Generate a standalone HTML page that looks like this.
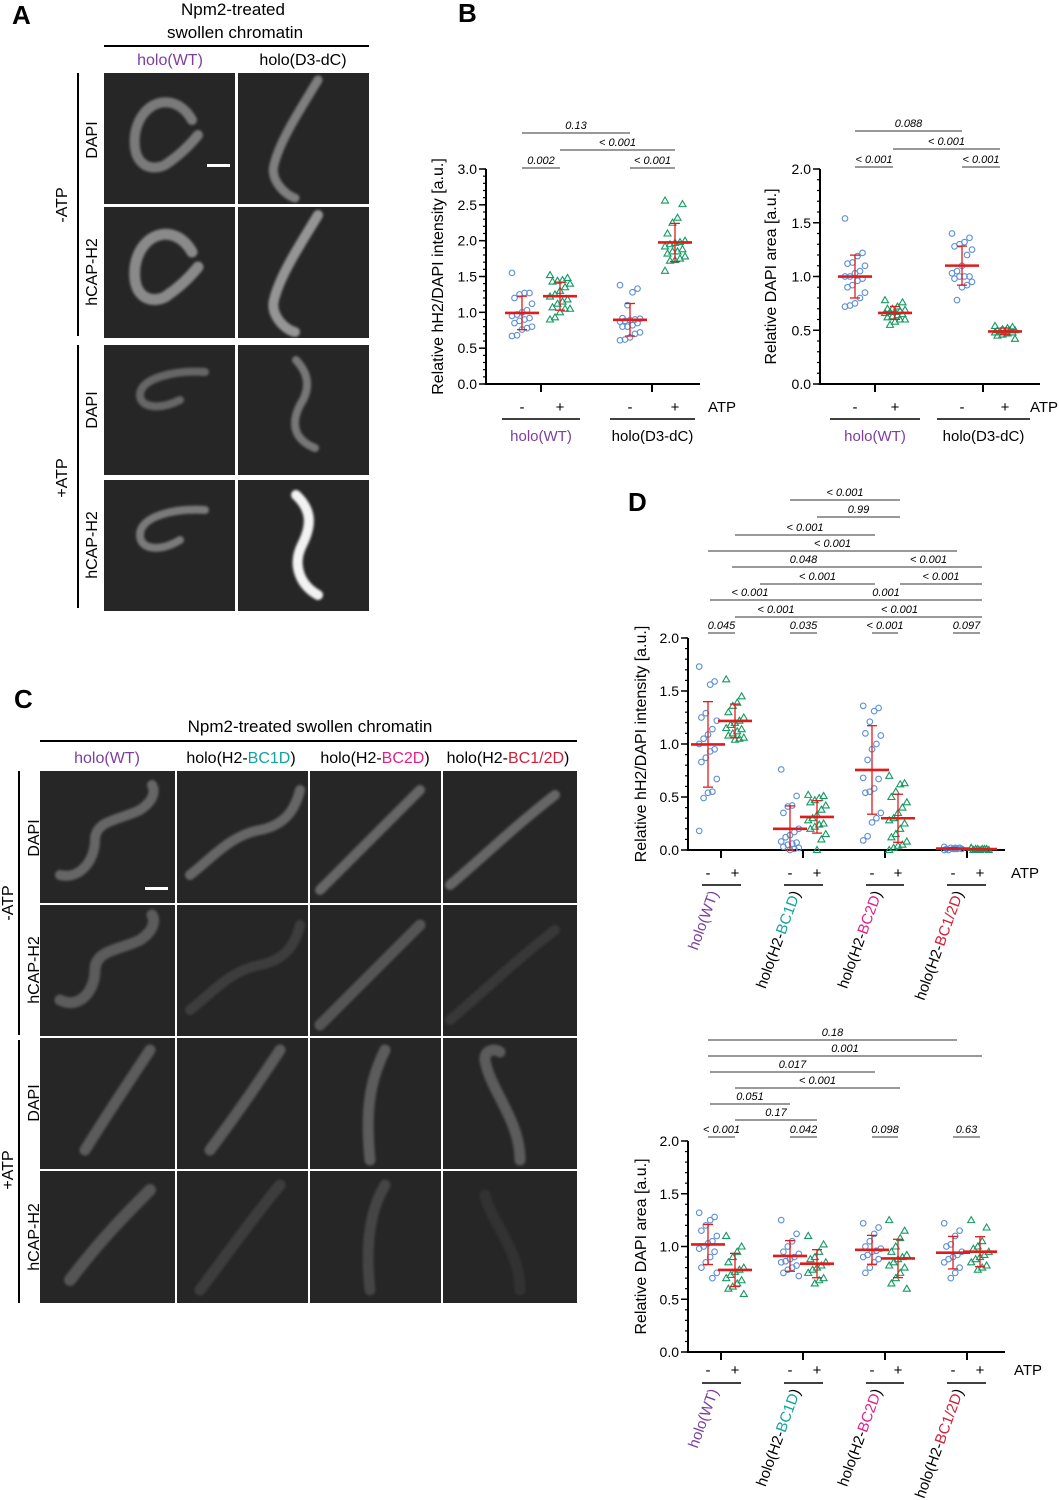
<!DOCTYPE html>
<html><head><meta charset="utf-8">
<style>
body{margin:0;background:#fff;}
svg{display:block;font-family:"Liberation Sans",Arial,sans-serif;}
</style></head>
<body>
<svg id="fig" width="1059" height="1500" viewBox="0 0 1059 1500">
<defs><filter id="bl" x="-20%" y="-20%" width="140%" height="140%"><feGaussianBlur stdDeviation="1.2"/></filter></defs>
<g id="static">
<!-- Panel A -->
<text x="12" y="24" font-size="26" font-weight="bold">A</text>
<text x="233" y="15" font-size="17" text-anchor="middle">Npm2-treated</text>
<text x="235" y="38" font-size="17" text-anchor="middle">swollen chromatin</text>
<line x1="104" y1="46" x2="369" y2="46" stroke="#000" stroke-width="2"/>
<text x="170" y="65" font-size="16" text-anchor="middle" fill="#7b3f9e">holo(WT)</text>
<text x="303" y="65" font-size="16" text-anchor="middle">holo(D3-dC)</text>
<line x1="78" y1="73" x2="78" y2="336" stroke="#000" stroke-width="2"/>
<line x1="78" y1="345" x2="78" y2="608" stroke="#000" stroke-width="2"/>
<text transform="translate(67,205) rotate(-90)" font-size="16" text-anchor="middle">-ATP</text>
<text transform="translate(67,478) rotate(-90)" font-size="16" text-anchor="middle">+ATP</text>
<text transform="translate(97,140) rotate(-90)" font-size="16" text-anchor="middle">DAPI</text>
<text transform="translate(97,272) rotate(-90)" font-size="16" text-anchor="middle">hCAP-H2</text>
<text transform="translate(97,410) rotate(-90)" font-size="16" text-anchor="middle">DAPI</text>
<text transform="translate(97,545) rotate(-90)" font-size="16" text-anchor="middle">hCAP-H2</text>
<g>
<rect x="104" y="73" width="131" height="131" fill="#262626"/>
<rect x="238" y="73" width="131" height="131" fill="#262626"/>
<rect x="104" y="207" width="131" height="131" fill="#262626"/>
<rect x="238" y="207" width="131" height="131" fill="#262626"/>
<rect x="104" y="345" width="131" height="130" fill="#262626"/>
<rect x="238" y="345" width="131" height="130" fill="#262626"/>
<rect x="104" y="480" width="131" height="131" fill="#262626"/>
<rect x="238" y="480" width="131" height="131" fill="#262626"/>
<g fill="none" stroke-linecap="round" filter="url(#bl)">
<path d="M192,120 C175,90 140,100 135,135 C132,165 150,172 165,165 C180,155 190,145 198,135" stroke="#7a7a7a" stroke-width="10"/>
<path d="M192,252 C175,222 140,232 135,267 C132,297 150,304 165,297 C180,287 190,277 198,267" stroke="#8a8a8a" stroke-width="11"/>
<path d="M318,80 C300,110 280,140 274,165 C270,180 285,195 295,198" stroke="#7f7f7f" stroke-width="9"/>
<path d="M318,215 C300,245 280,275 274,300 C270,315 285,330 295,332" stroke="#959595" stroke-width="10"/>
<path d="M205,372 C175,370 140,378 140,395 C140,408 160,410 180,400" stroke="#666" stroke-width="8"/>
<path d="M205,510 C175,508 140,516 140,535 C140,550 160,552 180,540" stroke="#7a7a7a" stroke-width="8"/>
<path d="M296,360 C310,375 310,390 300,405 C290,425 295,440 315,448" stroke="#777" stroke-width="8"/>
<path d="M296,495 C312,510 312,525 302,545 C292,565 300,585 318,595" stroke="#f2f2f2" stroke-width="10"/>
</g>
<rect x="207" y="164" width="23" height="3" fill="#fff"/>
</g>
<!-- Panel B -->
<text x="458" y="22" font-size="26" font-weight="bold">B</text>
<!-- Panel C -->
<text x="14" y="708" font-size="26" font-weight="bold">C</text>
<text x="310" y="732" font-size="17" text-anchor="middle">Npm2-treated swollen chromatin</text>
<line x1="40" y1="741" x2="577" y2="741" stroke="#000" stroke-width="2"/>
<text x="107" y="763" font-size="16" text-anchor="middle" fill="#7b3f9e">holo(WT)</text>
<text x="241" y="763" font-size="16" text-anchor="middle">holo(H2-<tspan fill="#10a5a0">BC1D</tspan>)</text>
<text x="375" y="763" font-size="16" text-anchor="middle">holo(H2-<tspan fill="#e0218a">BC2D</tspan>)</text>
<text x="508" y="763" font-size="16" text-anchor="middle">holo(H2-<tspan fill="#d0213a">BC1/2D</tspan>)</text>
<line x1="19" y1="771" x2="19" y2="1035" stroke="#000" stroke-width="2"/>
<line x1="19" y1="1040" x2="19" y2="1303" stroke="#000" stroke-width="2"/>
<text transform="translate(13,903) rotate(-90)" font-size="16" text-anchor="middle">-ATP</text>
<text transform="translate(13,1170) rotate(-90)" font-size="16" text-anchor="middle">+ATP</text>
<text transform="translate(39,838) rotate(-90)" font-size="16" text-anchor="middle">DAPI</text>
<text transform="translate(39,970) rotate(-90)" font-size="16" text-anchor="middle">hCAP-H2</text>
<text transform="translate(39,1103) rotate(-90)" font-size="16" text-anchor="middle">DAPI</text>
<text transform="translate(39,1237) rotate(-90)" font-size="16" text-anchor="middle">hCAP-H2</text>
<g>
<rect x="40" y="771" width="537" height="532" fill="#262626"/>
<g stroke="#fff" stroke-width="2">
<line x1="176" y1="771" x2="176" y2="1303"/><line x1="309" y1="771" x2="309" y2="1303"/><line x1="442" y1="771" x2="442" y2="1303"/>
<line x1="40" y1="904" x2="577" y2="904"/><line x1="40" y1="1037" x2="577" y2="1037"/><line x1="40" y1="1170" x2="577" y2="1170"/>
</g>
<g fill="none" stroke-linecap="round" filter="url(#bl)">
<path d="M60,875 C80,880 95,860 95,840 C95,820 120,820 140,810 C155,800 155,790 152,785" stroke="#666" stroke-width="10"/>
<path d="M190,875 C210,860 230,835 260,830 C285,825 295,810 300,790" stroke="#666" stroke-width="10"/>
<path d="M320,890 C350,860 380,830 420,790" stroke="#666" stroke-width="10"/>
<path d="M450,885 C480,860 510,830 555,795" stroke="#666" stroke-width="10"/>
<path d="M60,1000 C80,1010 95,990 95,970 C95,950 120,950 140,940 C155,930 155,920 152,915" stroke="#5c5c5c" stroke-width="11"/>
<path d="M190,1010 C210,995 230,970 260,965 C285,960 295,945 300,925" stroke="#3e3e3e" stroke-width="10"/>
<path d="M320,1025 C350,995 380,965 420,925" stroke="#555" stroke-width="11"/>
<path d="M450,1020 C480,995 510,965 555,930" stroke="#383838" stroke-width="10"/>
<path d="M85,1150 C110,1110 130,1080 150,1050" stroke="#5c5c5c" stroke-width="11"/>
<path d="M210,1150 C240,1110 260,1080 280,1050" stroke="#5c5c5c" stroke-width="11"/>
<path d="M370,1160 C365,1110 370,1080 385,1050" stroke="#5c5c5c" stroke-width="11"/>
<path d="M520,1160 C520,1120 490,1090 485,1060 C484,1050 495,1048 500,1052" stroke="#5c5c5c" stroke-width="11"/>
<path d="M70,1280 C100,1240 130,1210 150,1190" stroke="#555" stroke-width="12"/>
<path d="M200,1290 C230,1250 255,1215 280,1185" stroke="#3e3e3e" stroke-width="11"/>
<path d="M370,1290 C365,1245 370,1210 385,1185" stroke="#444" stroke-width="11"/>
<path d="M520,1290 C520,1250 490,1220 485,1195" stroke="#333" stroke-width="11"/>
</g>
<rect x="145" y="887" width="23" height="3" fill="#fff"/>
</g>
<!-- Panel D -->
<text x="628" y="511" font-size="26" font-weight="bold">D</text>
</g>
<g id="charts"></g>
</svg>
<script>
// ---------- DATA ----------
const b1Categories = ["WT-","WT+","D3-","D3+"];
const b1WTminus = [1.55,1.27,1.27,1.25,1.2,1.12,1.03,1.0,0.97,0.95,0.92,0.9,0.88,0.85,0.8,0.78,0.76,0.68,0.67];
const b1WTplus = [1.52,1.48,1.45,1.44,1.43,1.4,1.35,1.3,1.25,1.22,1.18,1.15,1.12,1.07,1.05,1.05,1.0,0.93,0.9];
const b1D3minus = [1.38,1.33,1.28,1.1,0.92,0.91,0.9,0.89,0.88,0.87,0.85,0.82,0.8,0.8,0.72,0.7,0.65,0.62,0.61];
const b1D3plus = [2.56,2.51,2.32,2.25,2.1,2.0,1.98,1.97,1.95,1.92,1.88,1.85,1.85,1.82,1.78,1.75,1.73,1.72,1.58];
const b1Ticks = ["0.0","0.5","1.0","1.5","2.0","2.5","3.0"];

const b2WTminus = [1.54,1.22,1.19,1.13,1.12,1.1,1.05,1.03,1.0,1.0,0.98,0.96,0.92,0.9,0.85,0.8,0.75,0.73,0.72];
const b2WTplus = [0.78,0.76,0.72,0.7,0.7,0.69,0.68,0.67,0.67,0.66,0.65,0.64,0.63,0.62,0.6,0.6,0.58,0.55];
const b2D3minus = [1.4,1.36,1.32,1.3,1.28,1.25,1.2,1.1,1.05,1.03,1.0,1.0,1.0,0.98,0.95,0.92,0.9,0.78];
const b2D3plus = [0.54,0.53,0.52,0.51,0.5,0.5,0.5,0.49,0.49,0.48,0.48,0.47,0.46,0.45,0.42];
const b2Ticks = ["0.0","0.5","1.0","1.5","2.0"];

const d1WTminus = [1.73,1.59,1.56,1.29,1.25,1.22,1.14,1.09,1.05,1.0,0.95,0.93,0.87,0.83,0.67,0.55,0.54,0.49,0.18];
const d1WTplus = [1.61,1.45,1.39,1.36,1.3,1.25,1.22,1.2,1.18,1.15,1.14,1.12,1.1,1.08,1.06,1.05,1.04];
const d1BC1Dminus = [0.76,0.51,0.42,0.41,0.35,0.2,0.17,0.14,0.12,0.08,0.07,0.06,0.05,0.03,0.02,0.01,0.0];
const d1BC1Dplus = [0.52,0.51,0.49,0.47,0.45,0.42,0.38,0.33,0.3,0.28,0.25,0.24,0.22,0.2,0.15,0.1,0.0];
const d1BC2Dminus = [1.36,1.34,1.31,1.21,1.1,1.08,1.0,0.95,0.85,0.68,0.67,0.58,0.55,0.54,0.35,0.3,0.26,0.13,0.09];
const d1BC2Dplus = [0.7,0.63,0.62,0.55,0.5,0.45,0.4,0.35,0.3,0.28,0.25,0.2,0.15,0.12,0.08,0.05,0.04,0.02,0.0];
const d1BC12minus = [0.03,0.02,0.02,0.02,0.01,0.01,0.01,0.01,0.0,0.0,0.02,0.01];
const d1BC12plus = [0.02,0.01,0.01,0.01,0.0,0.0,0.01,0.0,0.01,0.02];
const dTicks = ["0.0","0.5","1.0","1.5","2.0"];

const d2WTminus = [1.32,1.28,1.25,1.2,1.15,1.1,1.05,1.03,1.0,0.98,0.95,0.9,0.85,0.8,0.75,0.7];
const d2WTplus = [1.1,1.0,0.95,0.9,0.85,0.8,0.78,0.76,0.73,0.7,0.68,0.65,0.62,0.6,0.55];
const d2BC1Dminus = [1.25,1.12,1.05,1.0,0.95,0.93,0.9,0.88,0.86,0.85,0.82,0.8,0.78,0.75,0.72];
const d2BC1Dplus = [1.1,1.02,0.95,0.9,0.88,0.85,0.82,0.8,0.78,0.75,0.7,0.68,0.65];
const d2BC2Dminus = [1.22,1.18,1.12,1.05,1.0,0.98,0.96,0.95,0.92,0.9,0.88,0.85,0.8,0.75];
const d2BC2Dplus = [1.25,1.15,1.08,1.0,0.95,0.92,0.9,0.88,0.85,0.82,0.8,0.75,0.7,0.65,0.6];
const d2BC12minus = [1.22,1.15,1.1,1.02,1.0,0.95,0.92,0.9,0.88,0.85,0.8,0.75,0.7];
const d2BC12plus = [1.25,1.18,1.05,1.0,0.98,0.95,0.92,0.9,0.88,0.85,0.82,0.8,0.78];

const b1PValues = ["0.13","< 0.001","0.002","< 0.001"];
const b2PValues = ["0.088","< 0.001","< 0.001","< 0.001"];
const d1PValues = ["< 0.001","0.99","< 0.001","< 0.001","0.048","< 0.001","< 0.001","< 0.001","< 0.001","0.001","< 0.001","< 0.001","0.045","0.035","< 0.001","0.097"];
const d2PValues = ["0.18","0.001","0.017","< 0.001","0.051","0.17","< 0.001","0.042","0.098","0.63"];

// ---------- DRAWING ----------
const NS="http://www.w3.org/2000/svg";
const root=document.getElementById('charts');
function mk(tag,attrs,parent){const e=document.createElementNS(NS,tag);for(const k in attrs)e.setAttribute(k,attrs[k]);(parent||root).appendChild(e);return e;}
function txt(s,attrs,parent){const e=mk('text',attrs,parent);e.textContent=s;return e;}
const BLUE="#5b8fd6",GREEN="#129a62",RED="#e11b1b";

function chart(cfg){
  const g=mk('g',{});
  
  
  const y=v=>cfg.y0+(cfg.y1-cfg.y0)*(v-cfg.vmin)/(cfg.vmax-cfg.vmin);
  mk('line',{x1:cfg.ax,y1:y(cfg.vmax),x2:cfg.ax,y2:cfg.y0+1,stroke:'#000','stroke-width':2},g);
  mk('line',{x1:cfg.ax-1,y1:cfg.y0,x2:cfg.axEnd,y2:cfg.y0,stroke:'#000','stroke-width':2},g);
  const nMinor=Math.round((cfg.vmax-cfg.vmin)/cfg.minor);
  for(let i=0;i<=nMinor;i++){const v=cfg.vmin+i*cfg.minor;mk('line',{x1:cfg.ax-3,y1:y(v),x2:cfg.ax,y2:y(v),stroke:'#000','stroke-width':1.2},g);}
  cfg.ticks.forEach(t=>{const v=parseFloat(t);mk('line',{x1:cfg.ax-7,y1:y(v),x2:cfg.ax,y2:y(v),stroke:'#000','stroke-width':1.5},g);
    const l=txt(t,{x:cfg.ax-9,y:y(v)+5,'font-size':14,'text-anchor':'end'},g);
    
    });
  const yt=txt(cfg.ytitle,{transform:`translate(${cfg.ytx},${(y(cfg.vmax)+cfg.y0)/2}) rotate(-90)`,'font-size':16,'text-anchor':'middle'},g);
  
  
  cfg.gticks.forEach(x=>mk('line',{x1:x,y1:cfg.y0,x2:x,y2:cfg.y0+8,stroke:'#000','stroke-width':2},g));
  cfg.series.forEach((s,si)=>{
    const cx=cfg.xs[si];const green=si%2===1;
    s.forEach((v,i)=>{
      const dx=(((i*7)%9)-4)*cfg.jit;
      let m;
      if(green){const px=cx+dx,py=y(v);m=mk('path',{d:`M${px},${py-3.5} L${px+3.5},${py+2.5} L${px-3.5},${py+2.5}Z`,fill:'none',stroke:GREEN,'stroke-width':1.1},g);}
      else m=mk('circle',{cx:cx+dx,cy:y(v),r:2.8,fill:'none',stroke:BLUE,'stroke-width':1.1},g);
      
      
    });
    const mean=s.reduce((a,b)=>a+b,0)/s.length;
    const sd=Math.sqrt(s.reduce((a,b)=>a+(b-mean)*(b-mean),0)/(s.length-1));
    const eb=mk('g',{stroke:RED},g);
    
    
    mk('line',{x1:cx,y1:y(mean+sd),x2:cx,y2:y(Math.max(cfg.vmin,mean-sd)),'stroke-width':1.3},eb);
    mk('line',{x1:cx-5,y1:y(mean+sd),x2:cx+5,y2:y(mean+sd),'stroke-width':1.3},eb);
    mk('line',{x1:cx-5,y1:y(Math.max(cfg.vmin,mean-sd)),x2:cx+5,y2:y(Math.max(cfg.vmin,mean-sd)),'stroke-width':1.3},eb);
    mk('line',{x1:cx-17,y1:y(mean),x2:cx+17,y2:y(mean),'stroke-width':2.6},eb);
  });
  cfg.brackets.forEach((b,i)=>{
    mk('line',{x1:b[1],y1:b[0],x2:b[2],y2:b[0],stroke:'#333','stroke-width':1},g);
    const t=txt(cfg.pvals[i],{x:(b[1]+b[2])/2,y:b[0]-4,'font-size':11,'font-style':'italic','text-anchor':'middle'},g);
    
    
  });
  cfg.xs.forEach((x,i)=>txt(i%2?'+':'-',{x:x,y:cfg.pmY,'font-size':15,'text-anchor':'middle'},g));
  txt('ATP',{x:cfg.atpX,y:cfg.pmY,'font-size':15},g);
  cfg.groups.forEach((gr,i)=>{
    const xa=cfg.xs[2*i]-cfg.ul,xb=cfg.xs[2*i+1]+cfg.ul;
    mk('line',{x1:xa,y1:cfg.ulY,x2:xb,y2:cfg.ulY,stroke:'#000','stroke-width':1.5},g);
    let t;
    if(cfg.rot){t=mk('text',{transform:`translate(${(xa+xb)/2-3},${cfg.ulY+8}) rotate(-70)`,'font-size':15,'text-anchor':'end'},g);}
    else t=mk('text',{x:(xa+xb)/2,y:cfg.ulY+22,'font-size':15,'text-anchor':'middle'},g);
    gr.forEach(p=>{const ts=mk('tspan',{fill:p[1]},t);ts.textContent=p[0];});
    
    
  });
}
const K="#000",PUR="#7b3f9e";
const gB=[[["holo(WT)",PUR]],[["holo(D3-dC)",K]]];
const gD=[[["holo(WT)",PUR]],[["holo(H2-",K],["BC1D","#10a5a0"],[")",K]],[["holo(H2-",K],["BC2D","#e0218a"],[")",K]],[["holo(H2-",K],["BC1/2D","#d0213a"],[")",K]]];
const dxs=[708,735,790,817,872,898,953,980];

chart({name:'chart-b-hh2-intensity',ax:486,axEnd:700,y0:384,y1:169,vmin:0,vmax:3,minor:0.1,ticks:b1Ticks,ytx:443,ytitle:'Relative hH2/DAPI intensity [a.u.]',
  xs:[522,560,630,675],gticks:[541,652],jit:2.5,series:[b1WTminus,b1WTplus,b1D3minus,b1D3plus],
  brackets:[[133,522,630],[150,560,675],[168,522,560],[168,630,675]],pvals:b1PValues,
  pmY:412,atpX:708,ulY:419,ul:20,groups:gB,rot:false});
chart({name:'chart-b-dapi-area',ax:820,axEnd:1040,y0:384,y1:169,vmin:0,vmax:2,minor:0.1,ticks:b2Ticks,ytx:776,ytitle:'Relative DAPI area [a.u.]',
  xs:[855,895,962,1005],gticks:[875,983],jit:2.5,series:[b2WTminus,b2WTplus,b2D3minus,b2D3plus],
  brackets:[[131,855,962],[149,893,1000],[167,855,893],[167,962,1000]],pvals:b2PValues,
  pmY:412,atpX:1030,ulY:419,ul:25,groups:gB,rot:false});
chart({name:'chart-d-hh2-intensity',ax:688,axEnd:1005,y0:850,y1:638,vmin:0,vmax:2,minor:0.1,ticks:dTicks,ytx:646,ytitle:'Relative hH2/DAPI intensity [a.u.]',
  xs:dxs,gticks:[721,803,885,967],jit:2.2,series:[d1WTminus,d1WTplus,d1BC1Dminus,d1BC1Dplus,d1BC2Dminus,d1BC2Dplus,d1BC12minus,d1BC12plus],
  brackets:[[500,790,900],[517,817,900],[535,735,875],[551,708,957],[567,732,875],[567,875,982],[584,760,875],[584,900,982],[600,710,790],[600,790,982],[617,735,817],[617,817,982],[633,708,735],[633,790,817],[633,872,898],[633,953,980]],pvals:d1PValues,
  pmY:878,atpX:1011,ulY:885,ul:6,groups:gD,rot:true});
chart({name:'chart-d-dapi-area',ax:688,axEnd:1005,y0:1352,y1:1141,vmin:0,vmax:2,minor:0.1,ticks:dTicks,ytx:646,ytitle:'Relative DAPI area [a.u.]',
  xs:dxs,gticks:[721,803,885,967],jit:2.2,series:[d2WTminus,d2WTplus,d2BC1Dminus,d2BC1Dplus,d2BC2Dminus,d2BC2Dplus,d2BC12minus,d2BC12plus],
  brackets:[[1040,708,957],[1056,708,982],[1072,710,875],[1088,735,900],[1104,710,790],[1120,735,817],[1137,708,735],[1137,790,817],[1137,872,898],[1137,953,980]],pvals:d2PValues,
  pmY:1375,atpX:1014,ulY:1383,ul:6,groups:gD,rot:true});
</script>
</body></html>
